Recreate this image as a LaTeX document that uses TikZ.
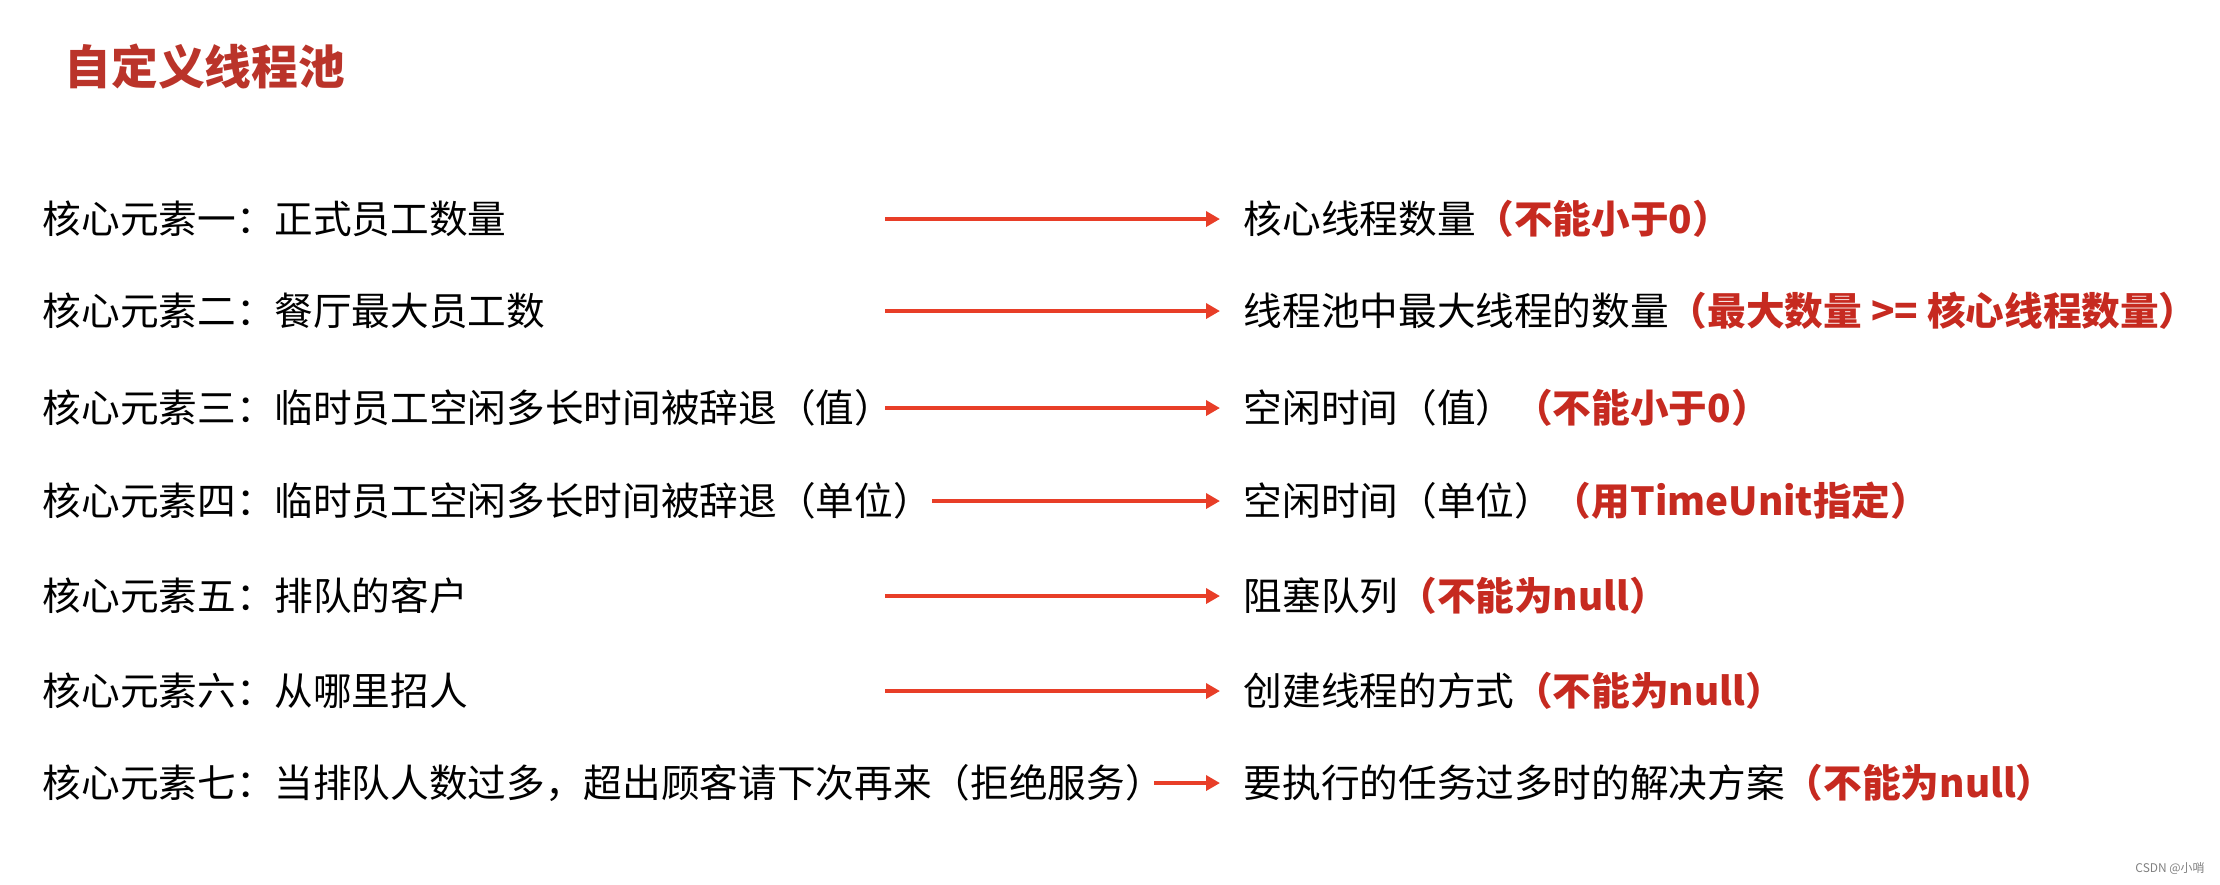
\documentclass[tikz,border=0pt]{standalone}
\usepackage{fontspec}
\setmainfont{Noto Sans CJK SC}
\usepackage{tikz}
\usetikzlibrary{positioning,calc,arrows.meta}

\definecolor{titlered}{RGB}{186,52,42}
\definecolor{notered}{RGB}{198,42,32}
\definecolor{arrowred}{RGB}{232,62,40}

\begin{document}
\begin{tikzpicture}[
	x=0.1mm, y=-0.1mm,
	every node/.style={inner sep=0pt, font=\fontsize{11}{13}\selectfont},
	element/.style={anchor=west},
	target/.style={anchor=west, inner xsep=2.3mm},
	note/.style={color=notered, font=\bfseries},
	link/.style={draw=arrowred, line width=1.2pt, -{Triangle[length=1.4mm,width=1.5mm]}}
	]
	\useasboundingbox (0,0) rectangle (2220,884);
	% title
	\node[anchor=west, color=titlered, font=\fontsize{13.3}{16}\selectfont\bfseries] (title) at (64,67) {自定义线程池};
	% elements
	\node[element] (e1) at (42,219) {核心元素一：正式员工数量};
	\node[element] (e2) at (42,311) {核心元素二：餐厅最大员工数};
	\node[element] (e3) at (42,408) {核心元素三：临时员工空闲多长时间被辞退（值）};
	\node[element] (e4) at (42,501) {核心元素四：临时员工空闲多长时间被辞退（单位）};
	\node[element] (e5) at (42,596) {核心元素五：排队的客户};
	\node[element] (e6) at (42,691) {核心元素六：从哪里招人};
	\node[element] (e7) at (42,783) {核心元素七：当排队人数过多，超出顾客请下次再来（拒绝服务）};
	% parameters
	\node[target] (p1) at (1220,219) {核心线程数量{\color{notered}\bfseries（不能小于0）}};
	\node[target] (p2) at (1220,311) {线程池中最大线程的数量{\color{notered}\bfseries（最大数量 >= 核心线程数量）}};
	\node[target] (p3) at (1220,408) {空闲时间（值）{\color{notered}\bfseries（不能小于0）}};
	\node[target] (p4) at (1220,501) {空闲时间（单位）{\color{notered}\bfseries（用TimeUnit指定）}};
	\node[target] (p5) at (1220,596) {阻塞队列{\color{notered}\bfseries（不能为null）}};
	\node[target] (p6) at (1220,691) {创建线程的方式{\color{notered}\bfseries（不能为null）}};
	\node[target] (p7) at (1220,783) {要执行的任务过多时的解决方案{\color{notered}\bfseries（不能为null）}};
	% arrow starts
	\coordinate (s1) at (885,219);
	\coordinate (s2) at (885,311);
	\coordinate (s3) at (885,408);
	\coordinate (s4) at (932,501);
	\coordinate (s5) at (885,596);
	\coordinate (s6) at (885,691);
	\coordinate (s7) at (1154,783);
	\draw[link] (s1) -- (p1.west);
	\draw[link] (s2) -- (p2.west);
	\draw[link] (s3) -- (p3.west);
	\draw[link] (s4) -- (p4.west);
	\draw[link] (s5) -- (p5.west);
	\draw[link] (s6) -- (p6.west);
	\draw[link] (s7) -- (p7.west);
	% watermark
	\node[color=gray, font=\fontsize{3.4}{4}\selectfont] (mark) at (2170,868) {CSDN @小哨};
\end{tikzpicture}
\end{document}
